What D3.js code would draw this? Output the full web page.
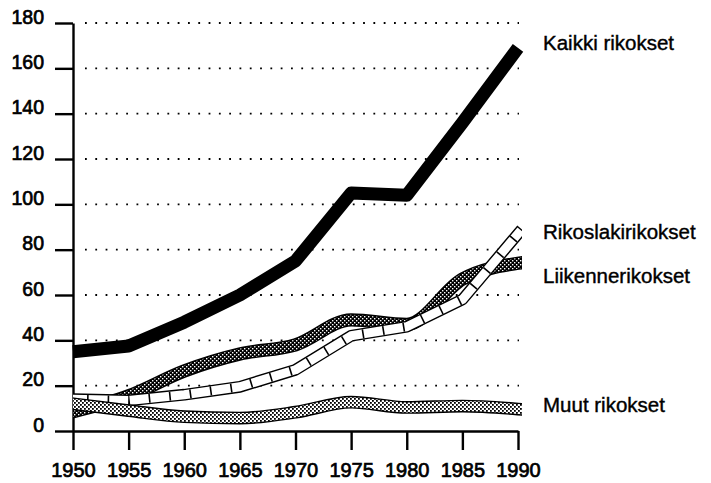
<!DOCTYPE html>
<html><head><meta charset="utf-8">
<script src="https://cdn.jsdelivr.net/npm/d3@7"></script>
<style>
html,body{margin:0;padding:0;background:#fff;}
text{font-family:"Liberation Sans",Arial,Helvetica,sans-serif;fill:#000;}
</style></head>
<body><svg id="c" width="711" height="483"></svg>
<script>
const years = [1950,1955,1960,1965,1970,1975,1980,1985,1990];
const kaikki = [35,37.5,48,60,75,105,104,136,169];
const rikoslaki = [14,13.5,16,19.5,27,42,46,58,87];
const liikenne = [8.5,15.5,26.5,34,38,49,47,67,74];
const muut = [12,9,6.3,5.7,8.3,12.7,10.4,11,9.7];
const yTicks = [0,20,40,60,80,100,120,140,160,180];
const seriesNames = ["Kaikki rikokset","Rikoslakirikokset","Liikennerikokset","Muut rikokset"];

const svg = d3.select("#c");
const x = d3.scaleLinear().domain([1950,1990]).range([73,518]);
const y = d3.scaleLinear().domain([0,180]).range([431,23]);

const defs = svg.append("defs");
const pLight = defs.append("pattern").attr("id","light").attr("patternUnits","userSpaceOnUse").attr("width",4).attr("height",4);
pLight.append("rect").attr("width",4).attr("height",4).attr("fill","#fff");
pLight.append("rect").attr("x",0).attr("y",0).attr("width",1.8).attr("height",1.8).attr("fill","#000");
pLight.append("rect").attr("x",2).attr("y",2).attr("width",1.8).attr("height",1.8).attr("fill","#000");
const pDark = defs.append("pattern").attr("id","dark").attr("patternUnits","userSpaceOnUse").attr("width",4).attr("height",4);
pDark.append("rect").attr("width",4).attr("height",4).attr("fill","#000");
pDark.append("rect").attr("x",0).attr("y",0).attr("width",1.4).attr("height",1.4).attr("fill","#fff");
pDark.append("rect").attr("x",2).attr("y",2).attr("width",1.4).attr("height",1.4).attr("fill","#fff");
defs.append("clipPath").attr("id","clip").append("rect").attr("x",73).attr("y",0).attr("width",449).attr("height",483);

// gridlines
svg.append("g").selectAll("line").data(yTicks.filter(d=>d>0)).join("line")
  .attr("x1",85).attr("x2",519).attr("y1",d=>y(d)).attr("y2",d=>y(d))
  .attr("stroke","#000").attr("stroke-width",1.8).attr("stroke-dasharray","1.8,8.5");

// axes
const ya = svg.append("g").attr("transform","translate(73,0)")
  .call(d3.axisLeft(y).tickValues(yTicks).tickSize(18).tickSizeOuter(0));
ya.select(".domain").attr("stroke-width",2.4);
ya.selectAll(".tick line").attr("stroke-width",2.4);
ya.selectAll(".tick text").attr("x",-29).attr("dy",0).attr("font-size",19.5)
  .attr("font-family","Liberation Sans, Arial, sans-serif").attr("stroke","#000").attr("stroke-width",0.7);

const xa = svg.append("g").attr("transform","translate(0,431)")
  .call(d3.axisBottom(x).tickValues(years).tickFormat(d3.format("d")).tickSize(19).tickSizeOuter(0));
xa.select(".domain").attr("stroke-width",2.4);
xa.selectAll(".tick line").attr("stroke-width",2.4);
xa.selectAll(".tick text").attr("y",46).attr("dy",0).attr("font-size",20)
  .attr("font-family","Liberation Sans, Arial, sans-serif").attr("stroke","#000").attr("stroke-width",0.7);

const lineLin = d3.line().x((d,i)=>x(years[i])).y(d=>y(d));
const lineSm = d3.line().curve(d3.curveMonotoneX).x((d,i)=>x(years[i])).y(d=>y(d));

const g = svg.append("g").attr("clip-path","url(#clip)");
function band(data, gen, w, fill){
  g.append("path").attr("d",gen(data)).attr("fill","none").attr("stroke","#000")
    .attr("stroke-width",w+2.8).attr("stroke-linejoin","round").attr("stroke-linecap","square");
  g.append("path").attr("d",gen(data)).attr("fill","none").attr("stroke",fill)
    .attr("stroke-width",w).attr("stroke-linejoin","round").attr("stroke-linecap","square");
}
// Liikennerikokset
band(liikenne, lineSm, 10.5, "url(#dark)");
// Rikoslakirikokset
band(rikoslaki, lineLin, 9, "#fff");
g.append("path").attr("d",lineLin(rikoslaki)).attr("fill","none").attr("stroke","#000")
  .attr("stroke-width",9).attr("stroke-dasharray","1.6,19").attr("stroke-dashoffset",-14);
// Muut
band(muut, lineSm, 10, "url(#light)");
// Kaikki
svg.append("path").attr("d",lineLin(kaikki)).attr("fill","none").attr("stroke","#000")
  .attr("stroke-width",13).attr("stroke-linejoin","round").attr("stroke-linecap","butt");

// series labels
const labelY = [49.5, 239.3, 282.7, 411.7];
svg.append("g").selectAll("text").data(seriesNames).join("text")
  .attr("x",543).attr("y",(d,i)=>labelY[i]).attr("font-size",20.5)
  .attr("stroke","#000").attr("stroke-width",0.4).text(d=>d);
</script></body></html>
